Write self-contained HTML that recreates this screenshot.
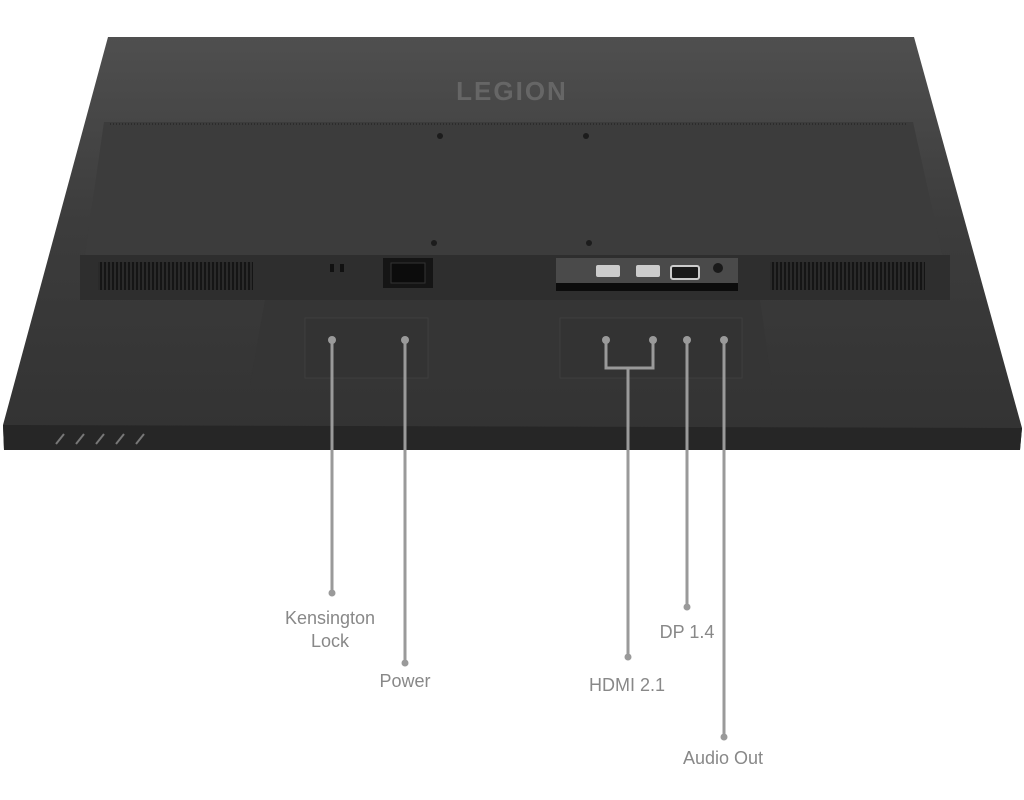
<!DOCTYPE html>
<html><head><meta charset="utf-8"><style>
html,body{margin:0;padding:0;background:#fff;width:1024px;height:800px;overflow:hidden}
svg{display:block}
text{font-family:"Liberation Sans",sans-serif;fill:#888;font-size:18px;text-anchor:middle}
</style></head><body>
<svg width="1024" height="800" viewBox="0 0 1024 800">
<defs>
<linearGradient id="bg" x1="0" y1="0" x2="0" y2="1">
<stop offset="0" stop-color="#4f4f4f"/><stop offset="0.45" stop-color="#3c3c3c"/><stop offset="1" stop-color="#323232"/>
</linearGradient>
<pattern id="vent" width="4" height="10" patternUnits="userSpaceOnUse">
<rect width="4" height="10" fill="#2a2a2a"/><rect width="2" height="10" fill="#151515"/>
</pattern>
</defs>
<polygon points="108,37 914,37 1022,428 1020,450 4,450 3,425" fill="url(#bg)"/>
<polygon points="3,425 1022,428 1020,450 4,450" fill="#262626"/>
<polygon points="104,122 913,122 950,290 80,290" fill="#3c3c3c"/>
<line x1="110" y1="124" x2="908" y2="124" stroke="#2c2c2c" stroke-width="2" stroke-dasharray="1,2"/>
<circle cx="440" cy="136" r="3" fill="#1c1c1c"/><circle cx="586" cy="136" r="3" fill="#1c1c1c"/>
<circle cx="434" cy="243" r="3" fill="#1c1c1c"/><circle cx="589" cy="243" r="3" fill="#1c1c1c"/>
<rect x="80" y="255" width="870" height="45" fill="#2e2e2e"/>
<rect x="98" y="262" width="155" height="28" fill="url(#vent)"/>
<rect x="770" y="262" width="155" height="28" fill="url(#vent)"/>
<rect x="383" y="258" width="50" height="30" fill="#151515"/>
<rect x="391" y="263" width="34" height="20" fill="#0c0c0c" stroke="#333"/>
<rect x="330" y="264" width="4" height="8" fill="#111"/><rect x="340" y="264" width="4" height="8" fill="#111"/>
<rect x="556" y="258" width="182" height="32" fill="#4a4a4a"/>
<rect x="556" y="283" width="182" height="8" fill="#0c0c0c"/>
<rect x="596" y="265" width="24" height="12" fill="#ccc" rx="2"/>
<rect x="636" y="265" width="24" height="12" fill="#ccc" rx="2"/>
<rect x="671" y="266" width="28" height="13" fill="#1a1a1a" stroke="#ccc" stroke-width="2" rx="2"/>
<circle cx="718" cy="268" r="5" fill="#1a1a1a"/>
<polygon points="265,300 760,300 772,385 250,385" fill="#353535"/>
<rect x="305" y="318" width="123" height="60" fill="#333" stroke="#3e3e3e"/>
<rect x="560" y="318" width="182" height="60" fill="#333" stroke="#3e3e3e"/>
<g stroke="#777" stroke-width="2"><line x1="56" y1="444" x2="64" y2="434"/><line x1="76" y1="444" x2="84" y2="434"/><line x1="96" y1="444" x2="104" y2="434"/><line x1="116" y1="444" x2="124" y2="434"/><line x1="136" y1="444" x2="144" y2="434"/></g>
<text x="512" y="100" style="font-size:26px;font-weight:bold;fill:#666;letter-spacing:2px">LEGION</text>
<g stroke="#9a9a9a" stroke-width="3" fill="none">
<line x1="332" y1="340" x2="332" y2="593"/>
<line x1="405" y1="340" x2="405" y2="663"/>
<polyline points="606,340 606,368 653,368 653,340"/>
<line x1="628" y1="368" x2="628" y2="657"/>
<line x1="687" y1="340" x2="687" y2="607"/>
<line x1="724" y1="340" x2="724" y2="737"/>
</g>
<g fill="#9a9a9a">
<circle cx="332" cy="340" r="4"/><circle cx="405" cy="340" r="4"/><circle cx="606" cy="340" r="4"/><circle cx="653" cy="340" r="4"/><circle cx="687" cy="340" r="4"/><circle cx="724" cy="340" r="4"/>
<circle cx="332" cy="593" r="3.5"/><circle cx="405" cy="663" r="3.5"/><circle cx="628" cy="657" r="3.5"/><circle cx="687" cy="607" r="3.5"/><circle cx="724" cy="737" r="3.5"/>
</g>
<text x="330" y="624">Kensington</text>
<text x="330" y="647">Lock</text>
<text x="405" y="687">Power</text>
<text x="627" y="691">HDMI 2.1</text>
<text x="687" y="638">DP 1.4</text>
<text x="723" y="764">Audio Out</text>
</svg>
</body></html>
